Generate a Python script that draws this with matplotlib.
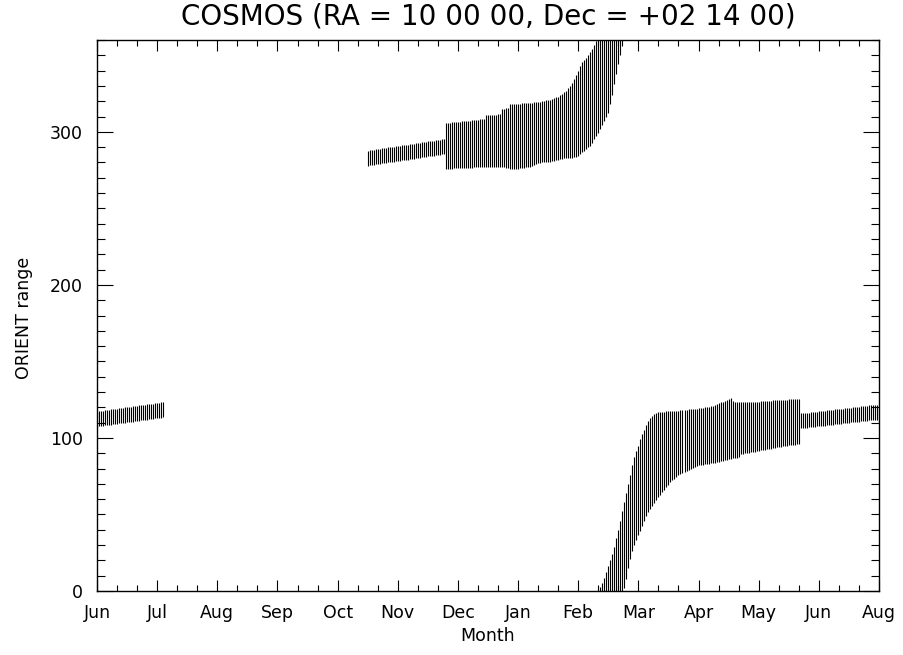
import numpy as np
import matplotlib
matplotlib.use("Agg")
import matplotlib.pyplot as plt

# ---------------- data (ORIENT range per day; day 0 = start of axis) ----------------
month_labels = ["Jun", "Jul", "Aug", "Sep", "Oct", "Nov", "Dec",
                "Jan", "Feb", "Mar", "Apr", "May", "Jun", "Aug"]

# segment A : Jun -> early Jul
start_a = 0
hi_a = [117.2, 117.4, 117.6, 117.8, 118.0, 118.2, 118.4, 118.6, 118.7, 118.9,
        119.1, 119.3, 119.5, 119.7, 119.9, 120.1, 120.2, 120.4, 120.6, 120.8,
        121.0, 121.2, 121.3, 121.5, 121.7, 121.9, 122.1, 122.3, 122.5, 122.6,
        122.8, 123.0, 123.2, 123.4]
lo_a = [107.4, 107.6, 107.8, 108.0, 108.2, 108.4, 108.5, 108.7, 108.9, 109.1,
        109.3, 109.5, 109.6, 109.8, 110.0, 110.2, 110.4, 110.6, 110.7, 110.9,
        111.1, 111.3, 111.5, 111.7, 111.8, 112.0, 112.2, 112.4, 112.6, 112.8,
        112.9, 113.1, 113.3, 113.5]

# segment B : mid Oct -> late Feb (upper)
start_b = 135
hi_b = [287.8, 288.0, 288.2, 288.4, 288.6, 288.8, 289.0, 289.2, 289.4, 289.6,
        289.8, 290.0, 290.1, 290.3, 290.5, 290.7, 290.9, 291.1, 291.3, 291.5,
        291.7, 291.9, 292.1, 292.3, 292.5, 292.7, 292.9, 293.1, 293.3, 293.5,
        293.7, 293.9, 294.1, 294.3, 294.5, 294.7, 294.8, 295.0, 295.2,
        305.6, 305.8, 305.9, 306.1, 306.2, 306.4, 306.5, 306.7, 306.8, 307.0,
        307.1, 307.3, 307.4, 307.6, 307.7, 307.9, 308.0, 308.2, 308.3, 308.5,
        310.8, 310.9, 311.0, 311.1, 311.2, 311.3, 311.4, 311.5,
        315.0, 315.2, 315.3, 315.5,
        317.9, 318.0, 318.1, 318.2, 318.4, 318.5, 318.6, 318.7, 318.8, 318.9,
        319.0, 319.1, 319.3, 319.4,
        319.6, 319.8, 320.0, 320.2, 320.5, 320.8, 321.1, 321.5, 322.0, 322.5,
        323.0, 323.8, 324.7, 325.8, 327.0, 328.5, 330.2, 332.2, 334.5, 337.0,
        339.8, 343.0, 345.5, 347.0, 348.5, 350.0, 352.0, 354.0, 356.5, 359.2,
        360.0, 360.0, 360.0, 360.0, 360.0, 360.0, 360.0, 360.0, 360.0, 360.0,
        360.0, 360.0, 360.0]
lo_b = [278.0, 278.2, 278.4, 278.6, 278.8, 279.0, 279.2, 279.4, 279.6, 279.8,
        280.0, 280.2, 280.3, 280.5, 280.7, 280.9, 281.1, 281.3, 281.5, 281.7,
        281.9, 282.1, 282.3, 282.5, 282.7, 282.9, 283.1, 283.3, 283.5, 283.7,
        283.9, 284.1, 284.3, 284.5, 284.7, 284.9, 285.0, 285.2, 285.4,
        275.8, 275.9, 275.9, 276.0, 276.1, 276.1, 276.2, 276.2, 276.3, 276.4,
        276.4, 276.5, 276.5, 276.6, 276.7, 276.7, 276.8, 276.8, 276.9, 277.0,
        277.0, 277.0, 277.0, 276.9, 276.9, 276.9, 276.8, 276.8,
        276.7, 276.7, 276.6, 276.6,
        275.6, 275.7, 275.8, 275.9, 276.0, 276.2, 276.4, 276.6, 276.8, 277.0,
        277.3, 277.8, 278.5, 279.3,
        279.6, 279.8, 280.0, 280.1, 280.3, 280.5, 280.6, 280.8, 281.1, 281.4,
        281.7, 282.0, 282.3, 282.6, 282.8, 283.0, 283.1, 283.2, 283.3, 283.4,
        284.5, 285.5, 286.5, 287.8, 288.8, 289.8, 291.0, 293.0, 295.0, 297.0,
        299.5, 302.0, 304.5, 307.0, 309.5, 312.5, 318.0, 324.0, 331.0, 338.0,
        344.0, 350.0, 356.0]

# segment C : late Feb -> end (lower)
start_c = 250
hi_c = [0.5, 2.5, 5.0, 8.5, 12.5, 16.5, 20.5, 24.5, 29.0, 34.5,
        40.0, 46.0, 52.0, 58.0, 64.0, 70.0, 76.0, 82.0, 87.5, 91.5,
        95.0, 99.0, 102.5, 105.5, 108.5, 111.0, 113.0, 114.5, 115.5, 116.3,
        116.8, 117.0,
        117.1, 117.2, 117.3, 117.4, 117.5, 117.6, 117.7, 117.8, 117.9, 118.0,
        118.1, 118.3, 118.4, 118.6, 118.7, 118.9, 119.0, 119.2, 119.3, 119.5,
        119.7, 119.9, 120.2, 120.4, 120.7, 121.0,
        121.5, 122.0, 122.6, 123.2, 123.8, 124.4, 125.0, 125.5, 126.0,
        124.0, 123.8, 123.6, 123.5, 123.5, 123.5, 123.5, 123.6, 123.6, 123.6,
        123.7, 123.7, 123.7, 123.8, 123.9, 124.0, 124.1, 124.2, 124.3, 124.4,
        124.5, 124.6, 124.7, 124.8, 124.9, 125.0, 125.0, 125.1, 125.2, 125.2,
        125.3, 125.4, 125.4, 125.5,
        116.0, 116.2, 116.3, 116.5, 116.6, 116.8, 116.9, 117.1, 117.2, 117.4,
        117.5, 117.7, 117.8, 118.0, 118.2, 118.3, 118.5, 118.6, 118.8, 118.9,
        119.1, 119.2, 119.4, 119.5, 119.7, 119.8, 120.0, 120.2, 120.3, 120.5,
        120.6, 120.8, 120.9, 121.1, 121.2, 121.4, 121.5, 121.7, 121.8, 122.0]
lo_c = [0.0, 0.0, 0.0, 0.0, 0.0, 0.0, 0.0, 0.0, 0.0, 0.0,
        0.0, 0.0, 0.0, 2.0, 8.0, 15.0, 21.0, 26.0, 30.0, 33.5,
        36.6, 39.5, 42.5, 45.5, 49.0, 51.5, 53.5, 55.5, 57.5, 59.5,
        61.3, 63.0,
        64.7, 66.3, 68.0, 69.5, 71.0, 72.3, 73.5, 74.6, 75.5, 76.3,
        77.1, 77.9, 78.6, 79.3, 80.0, 80.6, 81.2, 81.6, 82.0, 82.3,
        82.6, 82.8, 83.0, 83.2, 83.4, 83.6,
        83.9, 84.2, 84.5, 84.8, 85.1, 85.4, 85.7, 86.0, 86.3,
        86.6, 86.9, 87.1, 87.3, 89.5, 89.7, 89.9, 90.2, 90.4, 90.6,
        90.9, 91.1, 91.3, 91.6, 91.8, 92.0, 92.3, 92.5, 92.8, 93.0,
        93.3, 93.5, 93.8, 94.0, 94.3, 94.5, 94.7, 94.9, 95.1, 95.3,
        95.5, 95.7, 95.8, 96.0,
        106.3, 106.5, 106.6, 106.8, 106.9, 107.1, 107.2, 107.4, 107.5, 107.7,
        107.8, 108.0, 108.1, 108.3, 108.4, 108.6, 108.7, 108.9, 109.0, 109.2,
        109.3, 109.5, 109.6, 109.8, 109.9, 110.1, 110.2, 110.4, 110.5, 110.7,
        110.8, 111.0, 111.1, 111.3, 111.4, 111.6, 111.7, 111.9, 112.0, 112.2]

title_text = "COSMOS (RA = 10 00 00, Dec = +02 14 00)"
x_label = "Month"
y_label = "ORIENT range"

# ---------------- figure ----------------
plt.rcParams['font.family'] = ['DejaVu Sans']
fig = plt.figure(figsize=(9.04, 6.55), dpi=100)
ax = fig.add_axes([97 / 904, 64 / 655, 782 / 904, 551 / 655])

for start, lo, hi in [(start_a, lo_a, hi_a), (start_b, lo_b, hi_b), (start_c, lo_c, hi_c)]:
    days = start + np.arange(len(lo))
    ax.vlines(days, lo, hi, colors="black", linewidth=0.8)

ax.set_xlim(0, 390)
ax.set_ylim(0, 360)
ax.set_xticks(np.arange(0, 391, 30))
ax.set_xticklabels(month_labels)
ax.set_xticks(np.arange(0, 391, 10), minor=True)
ax.set_yticks([0, 100, 200, 300])
ax.set_yticks(np.arange(0, 361, 10), minor=True)

ax.tick_params(axis="both", which="both", direction="in", top=True, right=True,
               width=0.8, colors="black", labelsize=12.5)
ax.tick_params(axis="x", which="major", length=8, pad=9)
ax.tick_params(axis="x", which="minor", length=4)
ax.tick_params(axis="y", which="major", length=11.2, pad=10)
ax.tick_params(axis="y", which="minor", length=5.6)
for sp in ax.spines.values():
    sp.set_linewidth(1.0)

fig.text(488 / 904, 1 - 17 / 655, title_text, ha="center", va="center", fontsize=20)
fig.text(488 / 904, 1 - 636 / 655, x_label, ha="center", va="center", fontsize=12.5)
fig.text(24 / 904, 1 - 318 / 655, y_label, ha="center", va="center", rotation=90, fontsize=12.5)

fig.savefig("out.png", dpi=100, facecolor="white")
